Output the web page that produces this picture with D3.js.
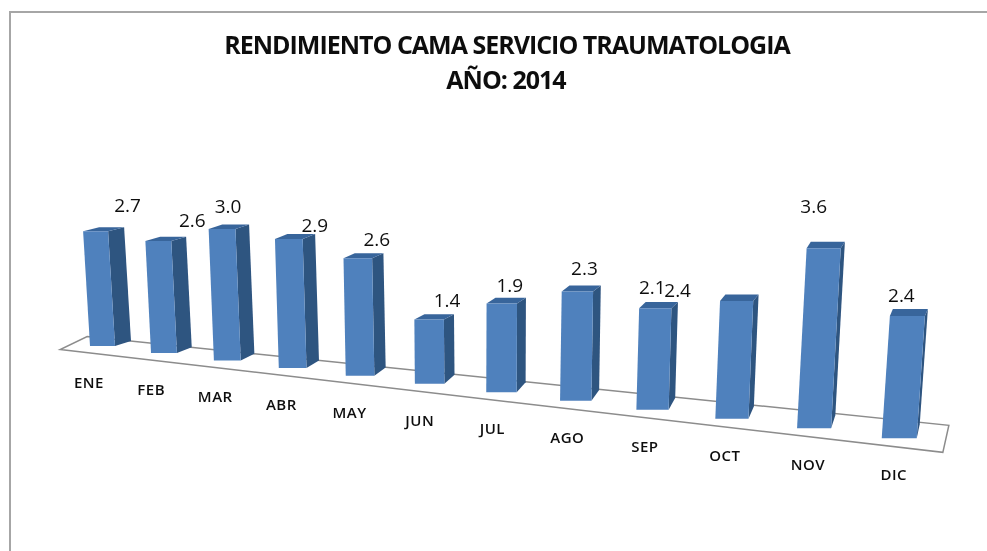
<!DOCTYPE html>
<html>
<head>
<meta charset="utf-8">
<script src="https://cdn.jsdelivr.net/npm/d3@7"></script>
<style>
body { margin: 0; background: #fff; }
svg { display: block; }
text { font-family: "Open Sans", sans-serif; fill: #111; }
</style>
</head>
<body>
<svg id="drawing_region" width="987" height="551"></svg>
<script>
// data
const months = ["ENE", "FEB", "MAR", "ABR", "MAY", "JUN", "JUL", "AGO", "SEP", "OCT", "NOV", "DIC"];
const values = [2.7, 2.6, 3.0, 2.9, 2.6, 1.4, 1.9, 2.3, 2.1, 2.4, 3.6, 2.4];
const titleLines = ["RENDIMIENTO CAMA SERVICIO TRAUMATOLOGIA", "AÑO: 2014"];

// the data labels were moved by hand in the original, so each has its own nudge
const labelNudgeX = [32, 34, 6, 26, 19, 18, 8, 7, -3, -59, -10, -6];
const labelNudgeY = [-26, -21, -23, -14, -19, -20, -18, -24, -21, -11, -42, -21];

// the reference is a soft, upscaled screenshot
var defs = d3.select('#drawing_region').append('defs');
defs.append('filter').attr('id', 'soft')
    .append('feGaussianBlur').attr('stdDeviation', 0.5);

var svg = d3.select('#drawing_region').append('g').attr('filter', 'url(#soft)');

// chart frame
svg.append('rect')
    .attr('x', 10).attr('y', 12)
    .attr('width', 1000).attr('height', 600)
    .attr('fill', '#fff')
    .attr('stroke', '#a6a6a6')
    .attr('stroke-width', 2);

// perspective: bars get closer to the viewer going right
const last = months.length - 1;
const index = d3.scaleLinear().domain([0, last]);
const w = index.copy().range([1, 0.835]);
const xscale = d3.scaleLinear().domain([0, 1]).range([90, 150.1]);
const yscale = d3.scaleLinear().domain([0, 1]).range([346, 353]);
const heightscale = d3.scaleLinear().domain([0, 1]).range([0, 42.5]);
const barWidth = index.copy().range([25, 35]);
const depthX = index.copy().range([16, 3]);
const depthYBottom = index.copy().range([5, 14]);
const depthYTop = index.copy().range([4, 7]);

const baseX = i => xscale(i / w(i));
const baseY = i => yscale(i / w(i));
const barHeight = (v, i) => heightscale(v) / w(i);
const lean = (v, i) => (baseX(i) - 465) * 0.00016 * barHeight(v, i);

// floor
const floorLeft = -0.5, floorRight = 11.7;
const floorDepthX = d3.scaleLinear().domain([floorLeft, floorRight]).range([27, 6]);
const floorDepthY = d3.scaleLinear().domain([floorLeft, floorRight]).range([13, 27]);
const frontY = i => baseY(i) + 7;
const floorCorners = [
    [baseX(floorLeft), frontY(floorLeft)],
    [baseX(floorRight), frontY(floorRight)],
    [baseX(floorRight) + floorDepthX(floorRight), frontY(floorRight) - floorDepthY(floorRight)],
    [baseX(floorLeft) + floorDepthX(floorLeft), frontY(floorLeft) - floorDepthY(floorLeft)]
];

svg.append('polygon')
    .attr('points', floorCorners.join(' '))
    .attr('fill', '#fff')
    .attr('stroke', '#8c8c8c')
    .attr('stroke-width', 1.5);

// bars
const bars = svg.selectAll('g.bar')
    .data(values.map((v, i) => {
        const bx = baseX(i), by = baseY(i), bw = barWidth(i);
        const tx = bx + lean(v, i), ty = by - barHeight(v, i);
        return { v, i, bx, by, bw, tx, ty };
    }))
    .join('g')
    .attr('class', 'bar');

// side face
bars.append('polygon')
    .attr('fill', '#2f5480')
    .attr('points', d => [
        [d.tx + d.bw, d.ty],
        [d.tx + d.bw + depthX(d.i), d.ty - depthYTop(d.i)],
        [d.bx + d.bw + depthX(d.i), d.by - depthYBottom(d.i)],
        [d.bx + d.bw, d.by]
    ].join(' '));

// top face
bars.append('polygon')
    .attr('fill', '#39659b')
    .attr('points', d => [
        [d.tx, d.ty],
        [d.tx + depthX(d.i), d.ty - depthYTop(d.i)],
        [d.tx + d.bw + depthX(d.i), d.ty - depthYTop(d.i)],
        [d.tx + d.bw, d.ty]
    ].join(' '));

// front face
bars.append('polygon')
    .attr('fill', '#4f81bd')
    .attr('points', d => [
        [d.tx, d.ty],
        [d.tx + d.bw, d.ty],
        [d.bx + d.bw, d.by],
        [d.bx, d.by]
    ].join(' '));

// value labels
bars.append('text')
    .attr('x', d => d.tx + d.bw / 2 + labelNudgeX[d.i])
    .attr('y', d => d.ty + labelNudgeY[d.i])
    .attr('text-anchor', 'middle')
    .attr('dominant-baseline', 'central')
    .attr('font-size', 19)
    .text(d => d.v.toFixed(1));

// month labels
const labelShift = index.copy().range([-1, 12]);
svg.selectAll('text.month')
    .data(months)
    .join('text')
    .attr('class', 'month')
    .attr('x', (d, i) => baseX(i) + labelShift(i))
    .attr('y', (d, i) => baseY(i) + 36)
    .attr('text-anchor', 'middle')
    .attr('dominant-baseline', 'central')
    .attr('font-size', 15)
    .attr('font-weight', 600)
    .attr('letter-spacing', 0.5)
    .text(d => d);

// title
svg.selectAll('text.title')
    .data(titleLines)
    .join('text')
    .attr('class', 'title')
    .attr('x', (d, i) => i == 0 ? 507 : 506)
    .attr('y', (d, i) => 44 + i * 35)
    .attr('text-anchor', 'middle')
    .attr('dominant-baseline', 'central')
    .attr('font-size', 25)
    .attr('font-weight', 'bold')
    .attr('letter-spacing', -1)
    .text(d => d);
</script>
</body>
</html>
